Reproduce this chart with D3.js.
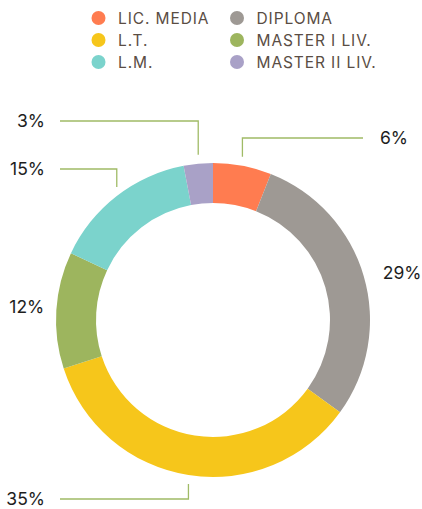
<!DOCTYPE html>
<html>
<head>
<meta charset="utf-8">
<script src="https://cdn.jsdelivr.net/npm/d3@7"></script>
<style>
  html, body { margin: 0; padding: 0; background: #fff; }
  svg { display: block; }
  .legend text { font-family: Inter, "Open Sans", sans-serif; font-size: 15.5px; fill: #5a4d44; letter-spacing: 0.9px; }
  .pct { font-family: Inter, "Open Sans", sans-serif; font-size: 17.5px; fill: #1e1e1e; }
</style>
</head>
<body>
<div id="chart"></div>
<script>
const categories = ['LIC. MEDIA', 'DIPLOMA', 'L.T.', 'MASTER I LIV.', 'L.M.', 'MASTER II LIV.'];
const values = [6, 29, 35, 12, 15, 3];
const colors = ['#ff7c50', '#9e9994', '#f6c61b', '#9db55e', '#7bd3cc', '#a9a1c7'];

// label placement: side, elbow or not, label row
const labelLayout = [
  { side: 'right', elbow: true, y: 138 },
  { side: 'right', elbow: false },
  { side: 'left', elbow: true, y: 499 },
  { side: 'left', elbow: false },
  { side: 'left', elbow: true, y: 169 },
  { side: 'left', elbow: true, y: 121 }
];

const width = 422, height = 509;
const cx = 213, cy = 320, outerR = 157, innerR = 117;

const svg = d3.select('#chart').append('svg')
  .attr('width', width)
  .attr('height', height);

// legend
const legend = svg.append('g').attr('class', 'legend');
const legItems = legend.selectAll('g')
  .data(categories)
  .enter()
  .append('g')
  .attr('transform', (d, i) => `translate(${i % 2 ? 237 : 98.5},${18 + Math.floor(i / 2) * 22})`);
legItems.append('circle').attr('r', 7).attr('fill', (d, i) => colors[i]);
legItems.append('text').attr('x', 19.5).attr('dy', '0.36em').text((d) => d);

// donut
const pie = d3.pie().sort(null).value((d) => d);
const arcs = pie(values);
const arc = d3.arc().innerRadius(innerR).outerRadius(outerR);

const $g = svg.append('g').attr('transform', `translate(${cx},${cy})`);
$g.selectAll('path')
  .data(arcs)
  .enter()
  .append('path')
  .attr('d', arc)
  .attr('fill', (d, i) => colors[i]);

// labels
const lineColor = '#a0bb66';
const $labels = svg.append('g');
arcs.forEach((a, i) => {
  const mid = (a.startAngle + a.endAngle) / 2;
  const px = cx + outerR * Math.sin(mid);
  const py = cy - outerR * Math.cos(mid);
  const lay = labelLayout[i];
  const txt = values[i] + '%';
  if (lay.elbow) {
    const up = lay.y < py;
    const endY = up ? py - 9 : py + 9;
    const lx = lay.side === 'left' ? 60 : 363;
    $labels.append('path')
      .attr('d', 'M' + px + ',' + endY + ' L' + px + ',' + lay.y + ' L' + lx + ',' + lay.y)
      .attr('fill', 'none')
      .attr('stroke', lineColor)
      .attr('stroke-width', 1.3);
    $labels.append('text')
      .attr('class', 'pct')
      .attr('x', lay.side === 'left' ? 45 : 380)
      .attr('y', lay.y)
      .attr('dy', '0.36em')
      .attr('text-anchor', lay.side === 'left' ? 'end' : 'start')
      .text(txt);
  } else {
    const lx = lay.side === 'left' ? px - 12 : px + 19;
    $labels.append('text')
      .attr('class', 'pct')
      .attr('x', lx)
      .attr('y', py - 3)
      .attr('dy', '0.36em')
      .attr('text-anchor', lay.side === 'left' ? 'end' : 'start')
      .text(txt);
  }
});
</script>
</body>
</html>
